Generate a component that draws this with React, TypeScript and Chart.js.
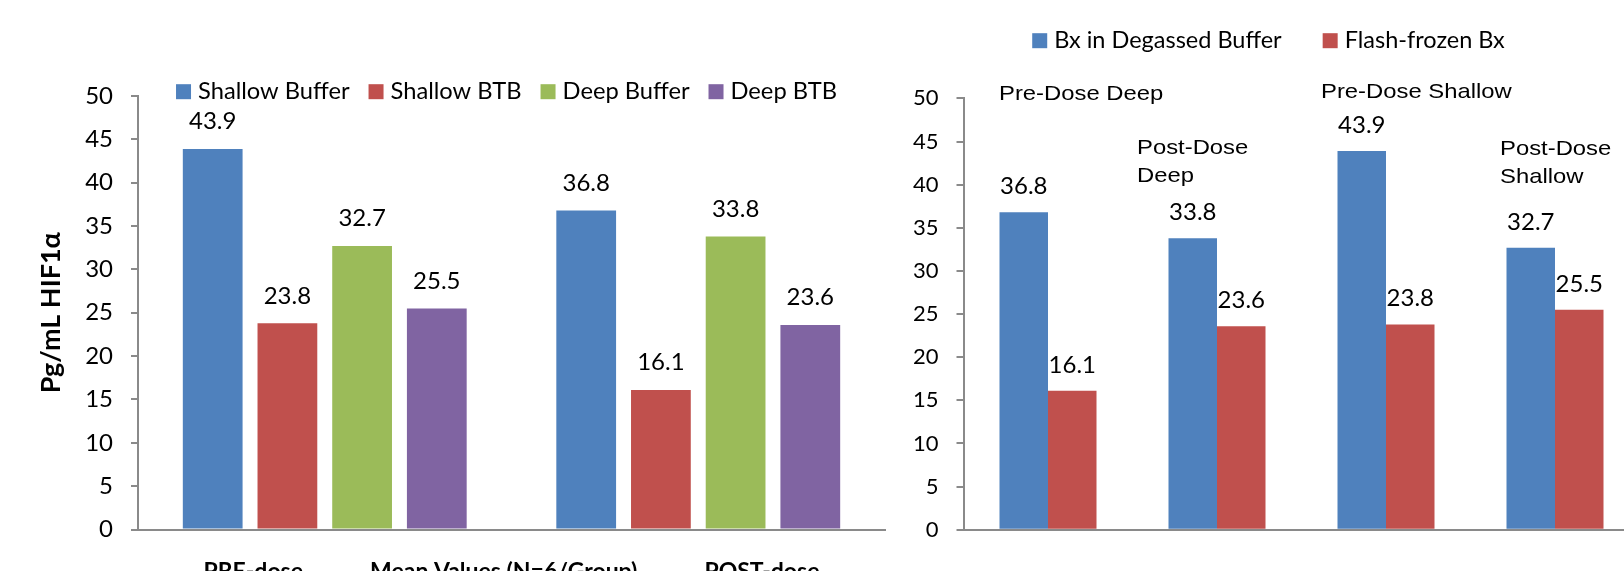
import React, { useEffect, useRef } from 'react';
import { Chart, registerables } from 'chart.js';

Chart.register(...registerables);

// ---------- data ----------
const leftCategories = ['PRE-dose', 'POST-dose'];
const leftSeriesNames = ['Shallow Buffer', 'Shallow BTB', 'Deep Buffer', 'Deep BTB'];
const shallowBuffer = [43.9, 36.8];
const shallowBTB = [23.8, 16.1];
const deepBuffer = [32.7, 33.8];
const deepBTB = [25.5, 23.6];
const leftXTitleParts = ['PRE-dose', 'Mean Values (N=6/Group)', 'POST-dose'];
const yTitle = 'Pg/mL HIF1α';

const rightCategories = ['Pre-Dose Deep', 'Post-Dose Deep', 'Pre-Dose Shallow', 'Post-Dose Shallow'];
const rightCategoryText = [['Pre-Dose Deep'], ['Post-Dose', 'Deep'], ['Pre-Dose Shallow'], ['Post-Dose', 'Shallow']];
const rightSeriesNames = ['Bx in Degassed Buffer', 'Flash-frozen Bx'];
const degassedBuffer = [36.8, 33.8, 43.9, 32.7];
const flashFrozen = [16.1, 23.6, 23.8, 25.5];

const yMin = 0;
const yMax = 50;
const yStep = 5;

// ---------- styles ----------
const BLUE = '#4F81BD';
const RED = '#C0504D';
const GREEN = '#9BBB59';
const PURPLE = '#8064A2';
const AXIS = '#8a8a8a';
const FONT = 'Lato, "Open Sans", sans-serif';

// ---------- plugins ----------
const boxLegend = {
  id: 'boxLegend',
  afterDraw(chart: any, _args: any, opts: any) {
    const { ctx, chartArea } = chart;
    const items = chart.data.datasets.map((ds: any) => ({ text: ds.label, color: ds.backgroundColor }));
    ctx.save();
    ctx.font = `${opts.size}px ${FONT}`;
    ctx.textBaseline = 'alphabetic';
    ctx.textAlign = 'left';
    const widths = items.map((it: any) => ctx.measureText(it.text).width);
    let total = 0;
    widths.forEach((w: number) => (total += opts.box + opts.textGap + w));
    total += opts.itemGap * (items.length - 1);
    let x = (chartArea.left + chartArea.right) / 2 + opts.centerOffset - total / 2;
    items.forEach((it: any, i: number) => {
      ctx.fillStyle = it.color;
      ctx.fillRect(x, opts.baseline - opts.boxRaise - opts.box / 2, opts.box, opts.box);
      ctx.fillStyle = '#000';
      ctx.fillText(it.text, x + opts.box + opts.textGap, opts.baseline);
      x += opts.box + opts.textGap + widths[i] + opts.itemGap;
    });
    ctx.restore();
  },
};

const valueLabels = {
  id: 'valueLabels',
  afterDatasetsDraw(chart: any, _args: any, opts: any) {
    const { ctx } = chart;
    ctx.save();
    ctx.font = `${opts.size}px ${FONT}`;
    ctx.fillStyle = '#000';
    ctx.textAlign = 'center';
    ctx.textBaseline = 'alphabetic';
    chart.data.datasets.forEach((ds: any, di: number) => {
      const meta = chart.getDatasetMeta(di);
      meta.data.forEach((el: any, i: number) => {
        ctx.fillText(Number(ds.data[i]).toFixed(1), el.x, el.y - opts.gap);
      });
    });
    ctx.restore();
  },
};

const categoryNotes = {
  id: 'categoryNotes',
  afterDraw(chart: any, _args: any, opts: any) {
    const { ctx } = chart;
    const xs = chart.scales.x;
    const ys = chart.scales.y;
    ctx.save();
    ctx.font = `${opts.size}px "Liberation Sans", Arial, sans-serif`;
    ctx.fillStyle = '#000';
    ctx.textAlign = 'left';
    ctx.textBaseline = 'alphabetic';
    opts.notes.forEach((n: any) => {
      const x = xs.getPixelForValue(n.index) + n.dx;
      const y0 = ys.getPixelForValue(n.yValue);
      rightCategoryText[n.index].forEach((line: string, li: number) => {
        ctx.save();
        ctx.translate(x, y0 + li * opts.lineHeight);
        ctx.scale(opts.stretch, 1);
        ctx.fillText(line, 0, 0);
        ctx.restore();
      });
    });
    ctx.restore();
  },
};

function yAxis(width: number, tickSize: number, title: any) {
  return {
    min: yMin,
    max: yMax,
    afterFit: (s: any) => {
      s.width = width;
    },
    ticks: {
      stepSize: yStep,
      padding: 18,
      color: '#000',
      font: { family: FONT, size: tickSize },
    },
    grid: {
      display: true,
      drawOnChartArea: false,
      drawTicks: true,
      tickLength: 7,
      color: AXIS,
      lineWidth: 2,
    },
    border: { display: true, color: AXIS, width: 2 },
    title,
  };
}

function xAxis(height: number, title: any) {
  return {
    afterFit: (s: any) => {
      s.height = height;
    },
    ticks: { display: false },
    grid: { display: false },
    border: { display: true, color: AXIS, width: 2 },
    title,
  };
}

function leftConfig(): any {
  const series = [shallowBuffer, shallowBTB, deepBuffer, deepBTB];
  const colors = [BLUE, RED, GREEN, PURPLE];
  return {
    type: 'bar',
    data: {
      labels: leftCategories,
      datasets: series.map((d, i) => ({
        label: leftSeriesNames[i],
        data: d,
        backgroundColor: colors[i],
        borderWidth: 0,
        barPercentage: 0.8,
        categoryPercentage: 0.8,
      })),
    },
    options: {
      responsive: false,
      animation: false,
      layout: { padding: { top: 96, right: 15, left: 0, bottom: 0 } },
      plugins: {
        legend: { display: false },
        tooltip: { enabled: false },
        boxLegend: { size: 23.7, box: 15, textGap: 7, itemGap: 19, centerOffset: -5, baseline: 99.3, boxRaise: 7.6 },
        valueLabels: { size: 24, gap: 19.5 },
      },
      scales: {
        x: xAxis(70.5, {
          display: true,
          text: leftXTitleParts.join(' '.repeat(12)),
          color: '#000',
          font: { family: FONT, size: 23, weight: 'bold' },
          padding: { top: 0, bottom: 15 },
        }),
        y: yAxis(138, 24, {
          display: true,
          text: yTitle,
          color: '#000',
          font: { family: FONT, size: 27, weight: 'bold' },
          padding: { top: 35, bottom: 0 },
        }),
      },
    },
    plugins: [boxLegend, valueLabels],
  };
}

function rightConfig(): any {
  const series = [degassedBuffer, flashFrozen];
  const colors = [BLUE, RED];
  return {
    type: 'bar',
    data: {
      labels: rightCategories,
      datasets: series.map((d, i) => ({
        label: rightSeriesNames[i],
        data: d,
        backgroundColor: colors[i],
        borderWidth: 0,
        barPercentage: 1.0,
        categoryPercentage: 0.574,
      })),
    },
    options: {
      responsive: false,
      animation: false,
      layout: { padding: { top: 98.4, right: 20.5, left: 0, bottom: 0 } },
      plugins: {
        legend: { display: false },
        tooltip: { enabled: false },
        boxLegend: { size: 23.5, box: 15, textGap: 7, itemGap: 41, centerOffset: -33, baseline: 48.3, boxRaise: 7.6 },
        valueLabels: { size: 24, gap: 18 },
        categoryNotes: {
          size: 21,
          stretch: 1.135,
          lineHeight: 28.3,
          notes: [
            { index: 0, dx: -49, yValue: 49.82 },
            { index: 1, dx: -80, yValue: 43.55 },
            { index: 2, dx: -65, yValue: 50.0 },
            { index: 3, dx: -55, yValue: 43.44 },
          ],
        },
      },
      scales: {
        x: xAxis(571 - 529.7, { display: false }),
        y: yAxis(83.5, 22, { display: false }),
      },
    },
    plugins: [boxLegend, valueLabels, categoryNotes],
  };
}

export default function App() {
  const leftRef = useRef<HTMLCanvasElement>(null);
  const rightRef = useRef<HTMLCanvasElement>(null);

  useEffect(() => {
    const l = new Chart(leftRef.current as HTMLCanvasElement, leftConfig());
    const r = new Chart(rightRef.current as HTMLCanvasElement, rightConfig());
    return () => {
      l.destroy();
      r.destroy();
    };
  }, []);

  return (
    <div
      style={{
        position: 'fixed',
        left: 0,
        top: 0,
        width: 1624,
        height: 571,
        overflow: 'hidden',
        background: '#ffffff',
      }}
    >
      <canvas ref={leftRef} width={900} height={600} style={{ position: 'absolute', left: 0, top: 0 }} />
      <canvas ref={rightRef} width={780} height={571} style={{ position: 'absolute', left: 880, top: 0 }} />
    </div>
  );
}
